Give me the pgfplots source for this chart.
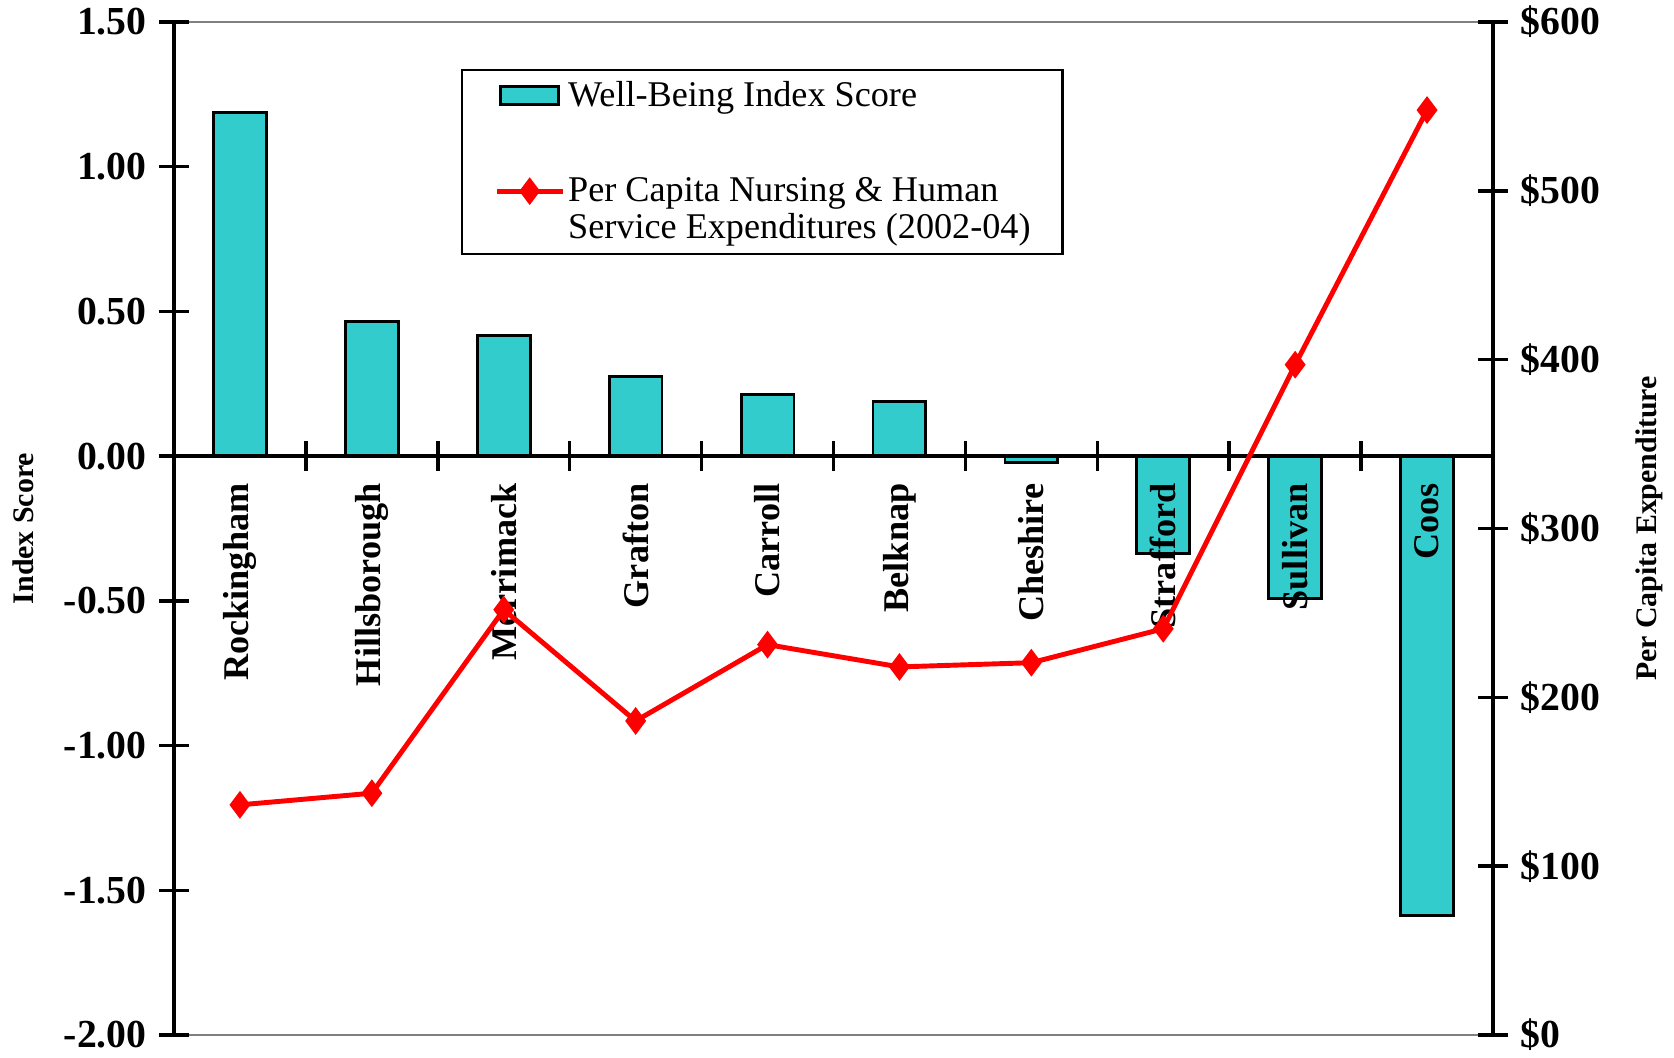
\documentclass[border=0pt]{standalone}
\usepackage{fontspec}
\setmainfont{Liberation Serif}
\usepackage{pgfplots}
\pgfplotsset{compat=1.18}
\definecolor{barcyan}{HTML}{33CCCC}
\begin{document}
\begin{tikzpicture}
\begin{axis}[
  name=main,
  scale only axis, width=13.19cm, height=10.13cm,
  xmin=-0.5, xmax=9.5, ymin=-2, ymax=1.5,
  axis on top,
  axis x line*=middle, axis y line*=left,
  x axis line style={line width=1pt, black, -},
  y axis line style={line width=1.3pt, black, -},
  tick align=center, major tick length=0.3cm,
  tick style={black, line width=1pt},
  xtick={0.5,1.5,...,8.5}, xticklabels={},
  extra x ticks={0,1,2,3,4,5,6,7,8,9},
  extra x tick labels={Rockingham,Hillsborough,Merrimack,Grafton,Carroll,Belknap,Cheshire,Strafford,Sullivan,Coos},
  extra x tick style={tick style={draw=none}},
  xticklabel style={rotate=90, anchor=east, font=\bfseries\fontsize{10.3}{12}\selectfont},
  ytick={-2,-1.5,-1,-0.5,0,0.5,1,1.5},
  yticklabels={-2.00,-1.50,-1.00,-0.50,0.00,0.50,1.00,1.50},
  yticklabel style={font=\bfseries\fontsize{11.3}{13}\selectfont, inner ysep=0pt},
  ylabel={Index Score},
  every axis y label/.style={at={(axis description cs:0,0.5)}, xshift=-1.505cm, rotate=90, anchor=center, font=\bfseries\fontsize{8.5}{10}\selectfont},
  clip=false,
]
\draw[gray, line width=0.5pt] (axis cs:-0.5,1.5) -- (axis cs:9.5,1.5);
\draw[gray, line width=0.5pt] (axis cs:-0.5,-2) -- (axis cs:9.5,-2);
\addplot[ybar, bar width=0.4, fill=barcyan, draw=black, line width=0.8pt] coordinates {
(0,1.187) (1,0.465) (2,0.418) (3,0.275) (4,0.213) (5,0.190) (6,-0.022) (7,-0.337) (8,-0.491) (9,-1.587)};
\end{axis}
\begin{axis}[
  scale only axis, width=13.19cm, height=10.13cm,
  xmin=-0.5, xmax=9.5, ymin=0, ymax=600,
  axis x line=none, axis y line*=right,
  y axis line style={line width=1.3pt, black, -},
  tick align=center, major tick length=0.3cm,
  tick style={black, line width=1pt},
  ytick={0,100,200,300,400,500,600},
  yticklabels={\$0,\$100,\$200,\$300,\$400,\$500,\$600},
  yticklabel style={font=\bfseries\fontsize{11.3}{13}\selectfont, inner ysep=0pt},
  ylabel={Per Capita Expenditure},
  every axis y label/.style={at={(axis description cs:1,0.5)}, xshift=1.56cm, rotate=90, anchor=center, font=\bfseries\fontsize{8.5}{10}\selectfont},
  legend style={at={(axis description cs:0.2176,0.9536)}, anchor=north west, draw=black, line width=0.7pt,
    inner xsep=0.32cm, inner ysep=0.1cm, row sep=1.8pt, /tikz/column sep=0.03cm,
    font=\fontsize{10.3}{10.5}\selectfont, nodes={inner sep=0pt}},
  legend cell align=left,
  clip=false,
]
\addlegendimage{legend image code/.code={\draw[fill=barcyan, draw=black, line width=0.8pt] (0.04cm,-0.09cm) rectangle (0.62cm,0.09cm);}}
\addlegendentry{\strut Well-Being Index Score}
\addlegendimage{empty legend}
\addlegendentry{\rule{0pt}{13.2pt}}
\addplot[red, line width=1.4pt, mark=diamond*, mark size=2.8pt,
  legend image code/.code={\draw[mark repeat=2,mark phase=2] plot coordinates {(0cm,0cm) (0.33cm,0cm) (0.66cm,0cm)};}]
coordinates {
(0,136.3) (1,143.2) (2,251.9) (3,186.0) (4,231.2) (5,218.0) (6,220.5) (7,240.6) (8,397.0) (9,547.8)};
\addlegendentry{\strut Per Capita Nursing \& Human}
\addlegendimage{empty legend}
\addlegendentry{\strut Service Expenditures (2002-04)}
\end{axis}
\pgfresetboundingbox
\path[use as bounding box] ([xshift=-1.74cm,yshift=-0.23cm]main.south west) rectangle ([xshift=1.81cm,yshift=0.22cm]main.north east);
\end{tikzpicture}
\end{document}
